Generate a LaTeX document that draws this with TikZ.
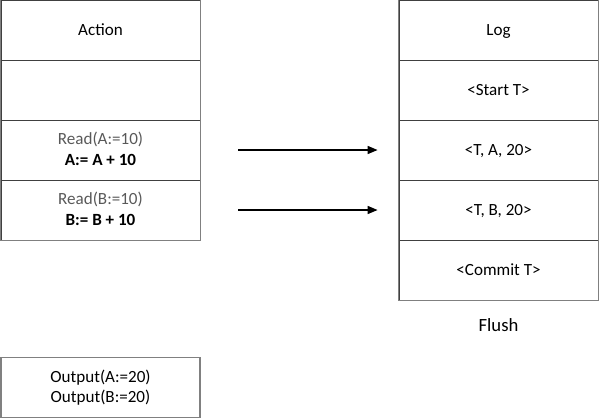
\documentclass[tikz,border=0pt]{standalone}
\usepackage{fontspec}
\setmainfont{Carlito}
\usetikzlibrary{arrows.meta}
\definecolor{readgray}{HTML}{595959}
\begin{document}
\begin{tikzpicture}[x=0.75pt,y=-0.75pt,
  cell/.style={draw=black!75,line width=0.6pt,minimum width=149.25pt,minimum height=45pt,inner sep=0pt,align=center,font=\fontsize{12.8}{15.5}\selectfont,execute at begin node={\vphantom{(}}},
  single/.style={text height=8.6pt,text depth=1pt},
  outer/.style={draw=black!50,line width=1.3pt},
  arr/.style={-{Triangle[length=7.5pt,width=6pt]},line width=1.1pt},
  lbl/.style={font=\fontsize{14}{16}\selectfont,inner sep=0pt}]
\useasboundingbox (0,0) rectangle (599,418);
% Action column
\node[cell,single] (a1) at (100.5,30) {Action};
\node[cell] (a2) at (100.5,90) {};
\node[cell] (a3) at (100.5,150) {\textcolor{readgray}{Read(A:=10)}\\\textbf{A:= A + 10}};
\node[cell] (a4) at (100.5,210) {\textcolor{readgray}{Read(B:=10)}\\\textbf{B:= B + 10}};
\draw[outer] (a1.north west) rectangle (a4.south east);
% Log column
\node[cell,single] (l1) at (498.5,30) {Log};
\node[cell,single] (l2) at (498.5,90) {<Start T>};
\node[cell,single] (l3) at (498.5,150) {<T, A, 20>};
\node[cell,single] (l4) at (498.5,210) {<T, B, 20>};
\node[cell,single] (l5) at (498.5,270) {<Commit T>};
\draw[outer] (l1.north west) rectangle (l5.south east);
\node[lbl] (flush) at (498.5,325) {Flush};
% Output box
\node[cell,draw=black!50,line width=1.3pt] (out) at (100.5,387.5) {Output(A:=20)\\Output(B:=20)};
% arrows
\draw[arr,shorten <=28.5pt,shorten >=15.75pt] (a3.east) -- (l3.west);
\draw[arr,shorten <=28.5pt,shorten >=15.75pt] (a4.east) -- (l4.west);
\end{tikzpicture}
\end{document}
